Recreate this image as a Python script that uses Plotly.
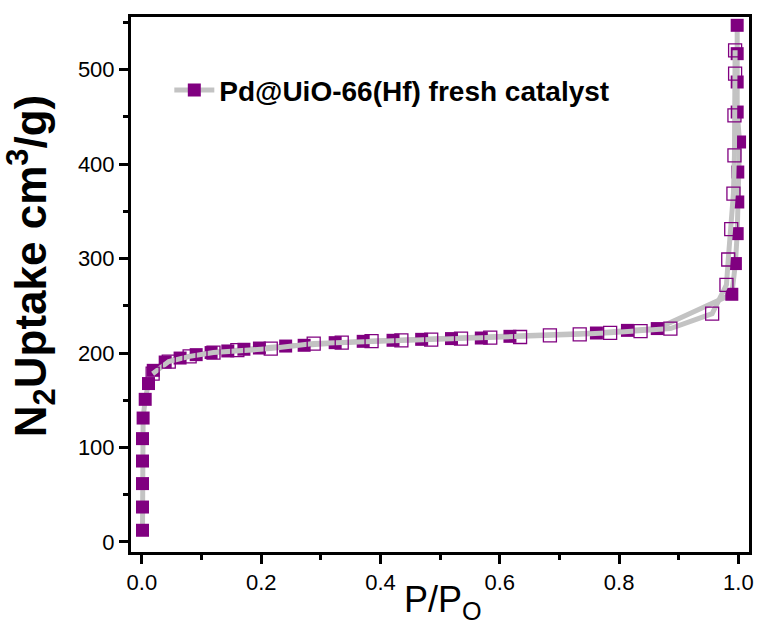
import plotly.graph_objects as go

# N2 isotherm of Pd@UiO-66(Hf) fresh catalyst (77 K)
# adsorption branch
ads_p = [0.001, 0.001, 0.001, 0.001, 0.001, 0.002, 0.0055, 0.011, 0.019, 0.039,
         0.064, 0.091, 0.116, 0.144, 0.171, 0.197, 0.241, 0.272, 0.324, 0.371,
         0.421, 0.469, 0.519, 0.569, 0.617, 0.762, 0.814, 0.864, 0.989, 0.995,
         0.998, 0.999, 0.999, 1.002, 0.998, 0.998, 0.998, 0.998]
ads_v = [12.4, 37.0, 61.8, 85.7, 109.4, 131.2, 151.0, 167.7, 181.7, 190.5,
         194.7, 198.3, 200.5, 202.2, 204.0, 205.3, 207.4, 208.2, 211.0, 212.4,
         213.5, 214.5, 215.3, 215.9, 217.7, 221.2, 224.0, 225.9, 262.2, 294.7,
         326.4, 359.9, 391.6, 423.4, 455.1, 486.9, 516.9, 546.9]

# desorption branch
des_p = [0.9945, 0.9945, 0.9934, 0.9934, 0.9917, 0.988, 0.983, 0.980, 0.956,
         0.886, 0.836, 0.785, 0.734, 0.684, 0.634, 0.584, 0.535, 0.485, 0.435,
         0.385, 0.335, 0.288, 0.216, 0.160, 0.120, 0.080, 0.045, 0.018]
des_v = [520.4, 495.8, 451.6, 409.3, 368.8, 331.2, 299.0, 272.2, 241.7,
         225.9, 223.3, 221.4, 219.8, 218.8, 217.0, 216.3, 215.3, 214.2, 213.5,
         212.7, 211.0, 210.0, 204.7, 203.0, 200.5, 196.5, 191.0, 178.2]

x_ticks = [0.0, 0.2, 0.4, 0.6, 0.8, 1.0]
y_ticks = [0, 100, 200, 300, 400, 500]

PURPLE = "#800080"
GREY = "#c3c3c3"
FONT = "Arial, Liberation Sans, sans-serif"

fig = go.Figure()
fig.add_trace(go.Scatter(
    x=ads_p, y=ads_v, mode="lines+markers",
    name="Pd@UiO-66(Hf) fresh catalyst",
    line=dict(color=GREY, width=5),
    marker=dict(symbol="square", size=13, color=PURPLE, line=dict(width=0)),
))
fig.add_trace(go.Scatter(
    x=des_p, y=des_v, mode="lines+markers", showlegend=False,
    line=dict(color=GREY, width=5),
    marker=dict(symbol="square-open", size=13, color=PURPLE,
                line=dict(width=1.3, color=PURPLE)),
))

axis_common = dict(
    showline=True, linecolor="black", linewidth=3, mirror=True,
    ticks="outside", tickwidth=3, tickcolor="black", ticklen=9,
    showgrid=False, zeroline=False,
    tickfont=dict(family=FONT, size=22, color="black"),
)

fig.update_xaxes(
    range=[-0.0183, 1.0178], tickvals=x_ticks,
    ticktext=[f"{v:.1f}" for v in x_ticks],
    minor=dict(dtick=0.1, ticks="outside", ticklen=5, tickwidth=3,
               tickcolor="black", showgrid=False),
    **axis_common,
)
fig.update_yaxes(
    range=[-10.6, 555.7], tickvals=y_ticks,
    minor=dict(dtick=50, ticks="outside", ticklen=5, tickwidth=3,
               tickcolor="black", showgrid=False),
    **axis_common,
)

# axis titles
fig.add_annotation(
    text="<b>N<sub>2</sub>Uptake cm<sup>3</sup>/g)</b>",
    xref="paper", yref="paper", x=-0.162, y=0.534,
    xanchor="center", yanchor="middle", textangle=-90, showarrow=False,
    font=dict(family=FONT, size=44, color="black"),
)
fig.add_annotation(
    text="P/P<sub>O</sub>",
    xref="paper", yref="paper", x=0.505, y=-0.14,
    xanchor="center", yanchor="bottom", showarrow=False,
    font=dict(family=FONT, size=36, color="black"),
)

fig.update_layout(
    width=765, height=629,
    margin=dict(l=131, r=11, t=17, b=77),
    paper_bgcolor="white", plot_bgcolor="white",
    font=dict(family=FONT, color="black"),
    showlegend=True,
    legend=dict(x=0.062, y=0.863, xanchor="left", yanchor="middle",
                bgcolor="rgba(0,0,0,0)",
                font=dict(family=FONT, size=28, color="black", weight="bold"),
                itemwidth=40),
)

fig.write_html("out.html")
